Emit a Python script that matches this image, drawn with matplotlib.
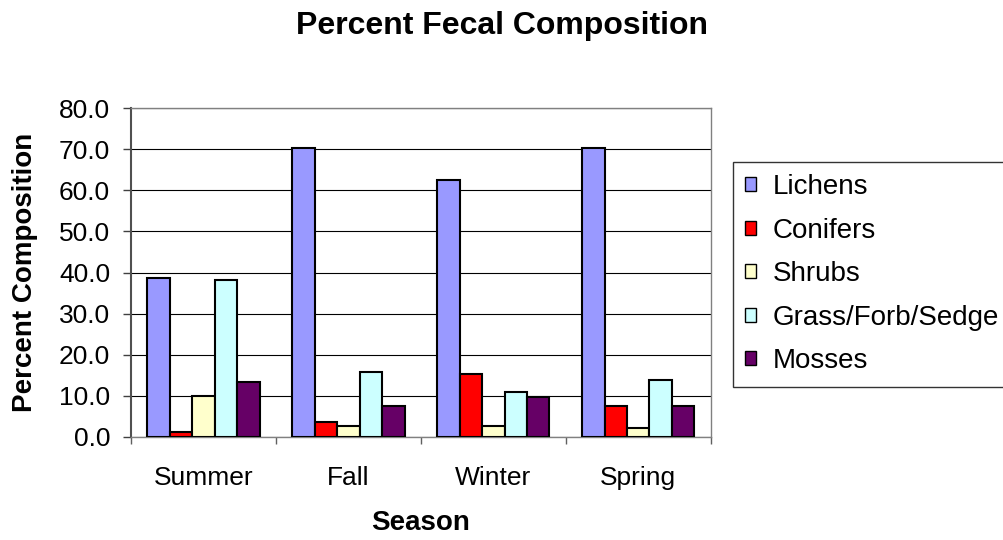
import matplotlib.pyplot as plt
import numpy as np

plt.rcParams['font.family'] = ['Liberation Sans', 'DejaVu Sans']

seasons = ['Summer', 'Fall', 'Winter', 'Spring']
groups = ['Lichens', 'Conifers', 'Shrubs', 'Grass/Forb/Sedge', 'Mosses']
lichens = [38.6, 70.3, 62.5, 70.3]
conifers = [1.1, 3.6, 15.3, 7.6]
shrubs = [9.9, 2.6, 2.6, 2.1]
grass = [38.2, 15.8, 10.9, 13.7]
mosses = [13.3, 7.6, 9.6, 7.6]
colors = ['#9999FF', '#FF0000', '#FFFFCC', '#CCFFFF', '#660066']

fig = plt.figure(figsize=(10.04, 5.4), dpi=100)
ax = fig.add_axes([0.1305, 0.1913, 0.5774, 0.6081])

x = np.arange(len(seasons))
w = 0.155
series = [lichens, conifers, shrubs, grass, mosses]
for i, (vals, name, c) in enumerate(zip(series, groups, colors)):
    ax.bar(x + (i - 2) * w, vals, w, color=c, edgecolor='black',
           linewidth=1.5, label=name, zorder=3)

ax.set_xlim(-0.5, 3.5)
ax.set_ylim(0, 80)
yt = np.arange(0, 81, 10)
ax.set_yticks(yt)
ax.set_yticklabels([f'{v:.1f}' for v in yt])
ax.yaxis.grid(True, color='black', linewidth=0.8, zorder=0)
ax.set_axisbelow(True)

# season names centred, tick marks between the groups
ax.set_xticks(x)
ax.set_xticklabels(seasons)
ax.set_xticks(np.arange(-0.5, 4.0, 1.0), minor=True)
ax.tick_params(axis='x', which='major', length=0, pad=21, labelsize=19)
ax.tick_params(axis='x', which='minor', length=5, color='#606060', width=1)
ax.tick_params(axis='y', length=6, color='#404040', width=1, pad=9,
               labelsize=19)

for s in ['top', 'right', 'bottom']:
    ax.spines[s].set_color('#808080')
    ax.spines[s].set_linewidth(1.0)
ax.spines['left'].set_color('#505050')
ax.spines['left'].set_linewidth(1.5)

ax.set_ylabel('Percent Composition', fontsize=20, fontweight='bold')
ax.yaxis.set_label_coords(-0.160, 0.5)
ax.set_xlabel('Season', fontsize=20, fontweight='bold')
ax.xaxis.set_label_coords(0.5, -0.223)
fig.text(0.5, 0.951, 'Percent Fecal Composition', ha='center', va='center',
         fontsize=23, fontweight='bold')

leg = fig.legend(loc='upper left', bbox_to_anchor=(0.730, 0.7006),
                 fontsize=20, frameon=True, fancybox=False,
                 handlelength=0.38, handleheight=0.38, handletextpad=0.61,
                 labelspacing=0.63, borderpad=0.45, borderaxespad=0)
leg.get_frame().set_edgecolor('black')
leg.get_frame().set_linewidth(1.0)
for h in leg.legend_handles:
    h.set_linewidth(1.0)

fig.savefig('out.png', dpi=100)
